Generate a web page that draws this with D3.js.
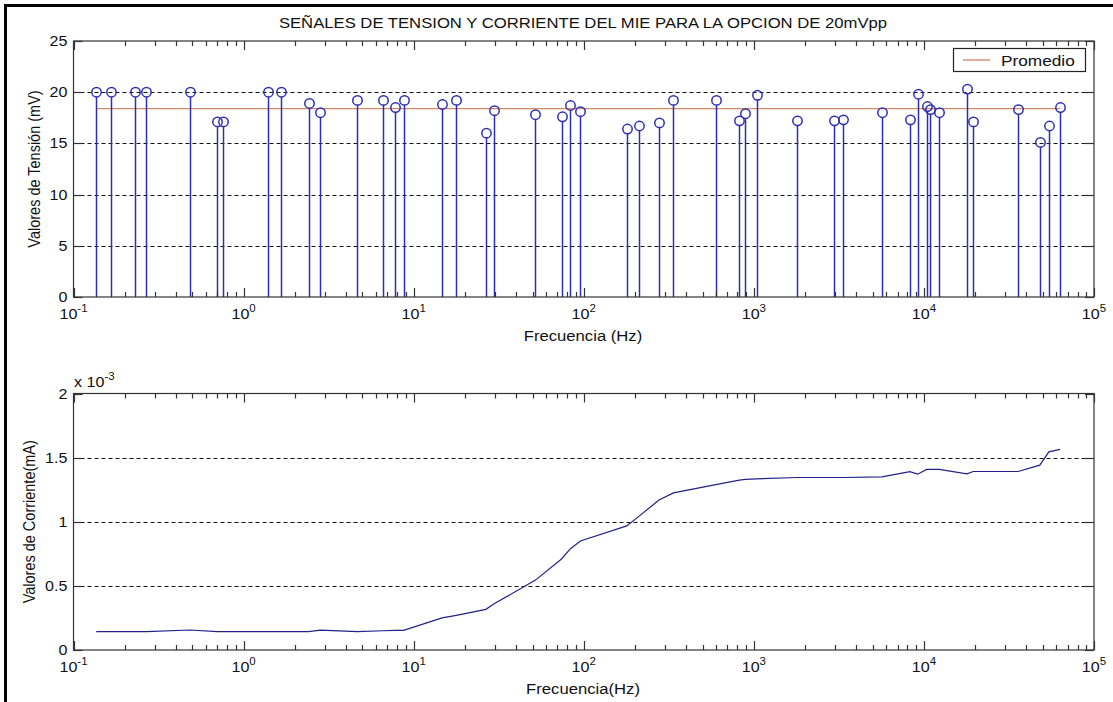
<!DOCTYPE html>
<html>
<head>
<meta charset="utf-8">
<script src="https://cdn.jsdelivr.net/npm/d3@7"></script>
<style>
  html, body { margin: 0; padding: 0; background: #fff; }
  svg { display: block; font-family: "Liberation Sans", Arial, sans-serif; }
</style>
</head>
<body>
<svg id="chart" width="1113" height="702"></svg>
<script>
// ---------------- DATA ----------------
const frecuencia = [0.136, 0.167, 0.229, 0.268, 0.485, 0.70, 0.758, 1.39, 1.667, 2.41,
  2.83, 4.67, 6.6, 7.8, 8.72, 14.7, 17.8, 26.6, 29.7, 52,
  74, 83.5, 95.6, 179, 210, 277, 337, 597, 822, 892,
  1040, 1795, 2970, 3357, 5665, 8275, 9185, 10370, 10840, 12300,
  17900, 19500, 35800, 48000, 54300, 63200];
const tension = [20, 20, 20, 20, 20, 17.1, 17.1, 20, 20, 18.9,
  18.0, 19.2, 19.2, 18.5, 19.2, 18.8, 19.2, 16.0, 18.2, 17.8,
  17.6, 18.7, 18.1, 16.4, 16.7, 17.0, 19.2, 19.2, 17.2, 17.9,
  19.7, 17.2, 17.2, 17.3, 18.0, 17.3, 19.8, 18.6, 18.3, 18.0,
  20.3, 17.1, 18.3, 15.1, 16.7, 18.5];
const corriente = [1.43e-4, 1.43e-4, 1.43e-4, 1.43e-4, 1.56e-4, 1.43e-4, 1.43e-4, 1.43e-4, 1.43e-4, 1.43e-4,
  1.55e-4, 1.43e-4, 1.50e-4, 1.53e-4, 1.53e-4, 2.50e-4, 2.70e-4, 3.17e-4, 3.60e-4, 5.45e-4,
  7.10e-4, 7.90e-4, 8.50e-4, 9.68e-4, 1.04e-3, 1.17e-3, 1.225e-3, 1.29e-3, 1.325e-3, 1.33e-3,
  1.335e-3, 1.345e-3, 1.345e-3, 1.345e-3, 1.35e-3, 1.39e-3, 1.371e-3, 1.408e-3, 1.408e-3, 1.408e-3,
  1.374e-3, 1.392e-3, 1.392e-3, 1.441e-3, 1.545e-3, 1.564e-3];
const promedio = [18.4];
const xTickExponents = [-1, 0, 1, 2, 3, 4, 5];
const yTicksTension = [0, 5, 10, 15, 20, 25];
const yTicksCorriente = [0, 0.5e-3, 1e-3, 1.5e-3, 2e-3];
const yTickLabelsCorriente = ["0", "0.5", "1", "1.5", "2"];

const titulo = "SEÑALES DE TENSION Y CORRIENTE DEL MIE PARA LA OPCION DE 20mVpp";

// ---------------- LAYOUT ----------------
const svg = d3.select("#chart");
svg.append("rect").attr("width", 1113).attr("height", 702).attr("fill", "#fff");

const SX = 1.15; // horizontal stretch of the text in the picture

const L = 73.5, R = 1094;
const top1 = 41, bot1 = 297;
const top2 = 393.5, bot2 = 650;

const x1 = d3.scaleLog().domain([0.1, 1e5]).range([L, R]);
const y1 = d3.scaleLinear().domain([0, 25]).range([bot1, top1]);
const y2 = d3.scaleLinear().domain([0, 2e-3]).range([bot2, top2]);

const stemColor = "#2e2eb4";
const lineColor = "#22228a";
const avgColor = "#d48a66";
const axisColor = "#333";
const TICK_FS = 14;

function txt(parent, x, y, anchor, fs, rot) {
  let tr = "translate(" + x + "," + y + ") scale(" + SX + ",1)";
  if (rot) tr += " rotate(" + rot + ")";
  return parent.append("text").attr("transform", tr).attr("text-anchor", anchor)
    .attr("font-size", fs).attr("fill", "#111");
}

// minor + major log ticks
const logTicks = [];
for (let e = -1; e < 5; e++) {
  for (let m = 1; m <= 9; m++) logTicks.push({ v: m * Math.pow(10, e), major: m === 1 });
}
logTicks.push({ v: 1e5, major: true });

function drawGrid(g, yScale, yt) {
  g.append("g").selectAll("line").data(yt.filter(v => v !== yScale.domain()[0] && v !== yScale.domain()[1]))
    .join("line")
    .attr("x1", L).attr("x2", R)
    .attr("y1", d => Math.round(yScale(d)) + 0.5).attr("y2", d => Math.round(yScale(d)) + 0.5)
    .attr("stroke", "#111").attr("stroke-width", 1).attr("stroke-dasharray", "4,3");
}

function drawFrame(g, yScale, yt, ytl, top, bot) {
  g.append("rect").attr("x", L).attr("y", top).attr("width", R - L).attr("height", bot - top)
    .attr("fill", "none").attr("stroke", axisColor).attr("stroke-width", 1.2);
  const tk = g.append("g");
  logTicks.forEach(t => {
    const xx = Math.round(x1(t.v)) + 0.5;
    const len = t.major ? 9 : 5;
    tk.append("line").attr("x1", xx).attr("x2", xx).attr("y1", bot).attr("y2", bot - len)
      .attr("stroke", axisColor).attr("stroke-width", 1.2);
    tk.append("line").attr("x1", xx).attr("x2", xx).attr("y1", top).attr("y2", top + len)
      .attr("stroke", axisColor).attr("stroke-width", 1.2);
  });
  yt.forEach(v => {
    const yy = Math.round(yScale(v)) + 0.5;
    tk.append("line").attr("x1", L).attr("x2", L + 9).attr("y1", yy).attr("y2", yy)
      .attr("stroke", axisColor).attr("stroke-width", 1.2);
    tk.append("line").attr("x1", R).attr("x2", R - 9).attr("y1", yy).attr("y2", yy)
      .attr("stroke", axisColor).attr("stroke-width", 1.2);
  });
  const yl = g.append("g");
  yt.forEach((v, i) => {
    txt(yl, L - 6, yScale(v) + 5, "end", TICK_FS).text(ytl[i]);
  });
  const xl = g.append("g");
  xTickExponents.forEach(e => {
    const t = txt(xl, x1(Math.pow(10, e)), bot + 22, "middle", TICK_FS);
    t.append("tspan").text("10");
    t.append("tspan").attr("dy", -7).attr("font-size", 10).text(String(e));
  });
}

// ---------------- FIGURE FRAME (top & left black border) ----------------
svg.append("line").attr("x1", 4).attr("x2", 1113).attr("y1", 5.5).attr("y2", 5.5)
  .attr("stroke", "#000").attr("stroke-width", 3);
svg.append("line").attr("x1", 5.5).attr("x2", 5.5).attr("y1", 4).attr("y2", 702)
  .attr("stroke", "#000").attr("stroke-width", 3);

// ---------------- TOP PLOT ----------------
const g1 = svg.append("g");
drawGrid(g1, y1, yTicksTension);

g1.append("line")
  .attr("x1", x1(frecuencia[0])).attr("x2", x1(frecuencia[frecuencia.length - 1]))
  .attr("y1", y1(promedio[0])).attr("y2", y1(promedio[0]))
  .attr("stroke", avgColor).attr("stroke-width", 1.4);

const R_MARK = 4.7;
g1.append("g").selectAll("line").data(frecuencia).join("line")
  .attr("x1", d => Math.round(x1(d)) + 0.5).attr("x2", d => Math.round(x1(d)) + 0.5)
  .attr("y1", y1(0)).attr("y2", (d, i) => y1(tension[i]) + R_MARK)
  .attr("stroke", stemColor).attr("stroke-width", 1.5);
g1.append("g").selectAll("circle").data(frecuencia).join("circle")
  .attr("cx", d => Math.round(x1(d)) + 0.5).attr("cy", (d, i) => y1(tension[i]))
  .attr("r", R_MARK).attr("fill", "none").attr("stroke", stemColor).attr("stroke-width", 1.5);

drawFrame(g1, y1, yTicksTension, yTicksTension.map(String), top1, bot1);

// legend
const lg = g1.append("g");
lg.append("rect").attr("x", 953.5).attr("y", 48.5).attr("width", 132).attr("height", 23)
  .attr("fill", "#fff").attr("stroke", "#222").attr("stroke-width", 1.2);
lg.append("line").attr("x1", 963).attr("x2", 990).attr("y1", 60).attr("y2", 60)
  .attr("stroke", avgColor).attr("stroke-width", 1.4);
txt(lg, 1001, 65.5, "start", 15).text("Promedio");

// title and labels
txt(svg, 583, 28, "middle", 14.5).text(titulo);
txt(svg, 583, 341, "middle", 14.5).text("Frecuencia (Hz)");
txt(svg, 40, (top1 + bot1) / 2, "middle", 14.5, -90).text("Valores de Tensión (mV)");

// ---------------- BOTTOM PLOT ----------------
const g2 = svg.append("g");
drawGrid(g2, y2, yTicksCorriente);

const line = d3.line().x((d, i) => x1(frecuencia[i])).y(d => y2(d));
g2.append("path").datum(corriente).attr("d", line)
  .attr("fill", "none").attr("stroke", lineColor).attr("stroke-width", 1.2);

drawFrame(g2, y2, yTicksCorriente, yTickLabelsCorriente, top2, bot2);

const mult = txt(svg, 74, 387, "start", 14);
mult.append("tspan").text("x 10");
mult.append("tspan").attr("dy", -7).attr("font-size", 10).text("-3");

txt(svg, 583, 694, "middle", 14.5).text("Frecuencia(Hz)");
txt(svg, 35, (top2 + bot2) / 2, "middle", 14.5, -90).text("Valores de Corriente(mA)");
</script>
</body>
</html>
